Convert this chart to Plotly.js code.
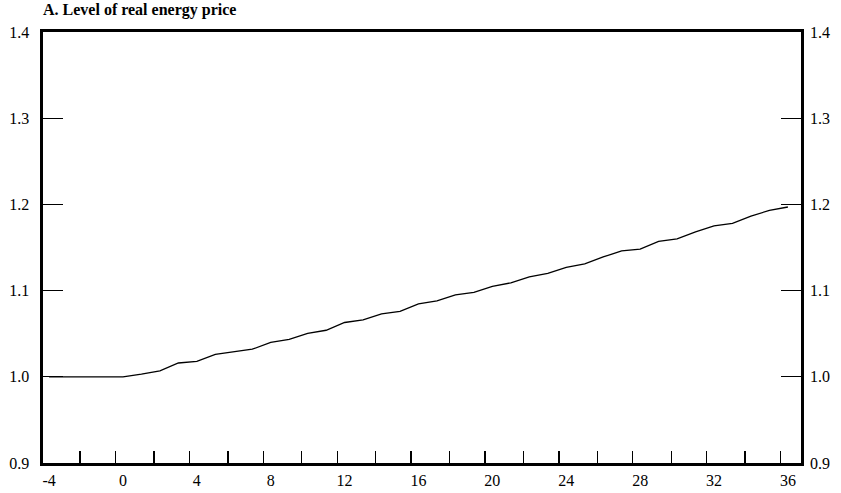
<!DOCTYPE html>
<html>
<head>
<meta charset="utf-8">
<script src="https://cdn.plot.ly/plotly-3.0.1.min.js"></script>
<style>html,body{margin:0;padding:0;background:#fff;}#chart{width:841px;height:493px;}</style>
</head>
<body>
<div id="chart"></div>
<script>
// Quarters relative to shock
const quarters = [-4,-3,-2,-1,0,1,2,3,4,5,6,7,8,9,10,11,12,13,14,15,16,17,18,19,20,21,22,23,24,25,26,27,28,29,30,31,32,33,34,35,36];
// Level of real energy price
const priceLevel = [1.000,1.000,1.000,1.000,1.000,1.003,1.007,1.016,1.018,1.026,1.029,1.032,1.040,1.0435,1.0505,1.054,1.063,1.066,1.073,1.076,1.0845,1.088,1.095,1.098,1.105,1.109,1.116,1.120,1.127,1.131,1.139,1.146,1.148,1.157,1.160,1.168,1.175,1.178,1.1865,1.193,1.197];
// x tick marks and labels
const xTickMarks = [-2.32,-0.4,1.68,3.6,5.68,7.6,9.68,11.6,13.68,15.6,17.68,19.6,21.68,23.6,25.68,27.6,29.68,31.6,33.68,35.6];
const xLabelVals = [-4,0,4,8,12,16,20,24,28,32,36];
const xLabelText = ['-4','0','4','8','12','16','20','24','28','32','36'];
const yTickVals = [0.9,1.0,1.1,1.2,1.3,1.4];
const yTickText = ['0.9','1.0','1.1','1.2','1.3','1.4'];
const chartTitle = 'A. Level of real energy price';

const serif = 'Liberation Serif, Times New Roman, serif';
const xRange = [-4.33, 36.71];
const yRange = [0.9, 1.4];

const traces = [
  {x: quarters, y: priceLevel, type: 'scatter', mode: 'lines',
   line: {color: '#000', width: 1.3}, hoverinfo: 'skip', showlegend: false},
  {x: quarters, y: priceLevel, type: 'scatter', mode: 'lines', xaxis: 'x2', yaxis: 'y2',
   line: {color: 'rgba(0,0,0,0)', width: 0}, hoverinfo: 'skip', showlegend: false}
];

const layout = {
  width: 841, height: 493,
  margin: {l: 43, r: 40, t: 32, b: 30, pad: 0},
  paper_bgcolor: '#fff', plot_bgcolor: '#fff',
  showlegend: false,
  title: {text: '<b>' + chartTitle + '</b>', x: 0, xref: 'paper', xanchor: 'left',
          y: 1, yref: 'container', yanchor: 'top', pad: {t: 4, l: 0},
          font: {family: serif, size: 16, color: '#000'}},
  xaxis: {range: xRange, tickmode: 'array', tickvals: xTickMarks, showticklabels: false,
          ticks: 'inside', ticklen: 12, tickwidth: 1.3, tickcolor: '#000',
          showline: true, linewidth: 2.6, linecolor: '#000', mirror: true,
          showgrid: false, zeroline: false, fixedrange: true},
  xaxis2: {range: xRange, overlaying: 'x', side: 'bottom', anchor: 'y', tickmode: 'array',
           tickvals: xLabelVals, ticktext: xLabelText, ticks: 'outside', ticklen: 3, tickcolor: 'rgba(0,0,0,0)',
           showline: false, showgrid: false, zeroline: false,
           tickfont: {family: serif, size: 16, color: '#000'}},
  yaxis: {range: yRange, tickmode: 'array', tickvals: yTickVals, ticktext: yTickText,
          ticks: 'inside', ticklen: 20, tickwidth: 1.3, tickcolor: '#000',
          showline: true, linewidth: 2.6, linecolor: '#000', mirror: 'ticks',
          showgrid: false, zeroline: false, ticklabelstandoff: 8,
          tickfont: {family: serif, size: 16, color: '#000'}},
  yaxis2: {range: yRange, overlaying: 'y', side: 'right', anchor: 'x', tickmode: 'array',
           tickvals: yTickVals, ticktext: yTickText, ticks: '', showline: false,
           showgrid: false, zeroline: false, ticklabelstandoff: 8,
           tickfont: {family: serif, size: 16, color: '#000'}}
};

Plotly.newPlot('chart', traces, layout, {staticPlot: true, displayModeBar: false});
</script>
</body>
</html>
